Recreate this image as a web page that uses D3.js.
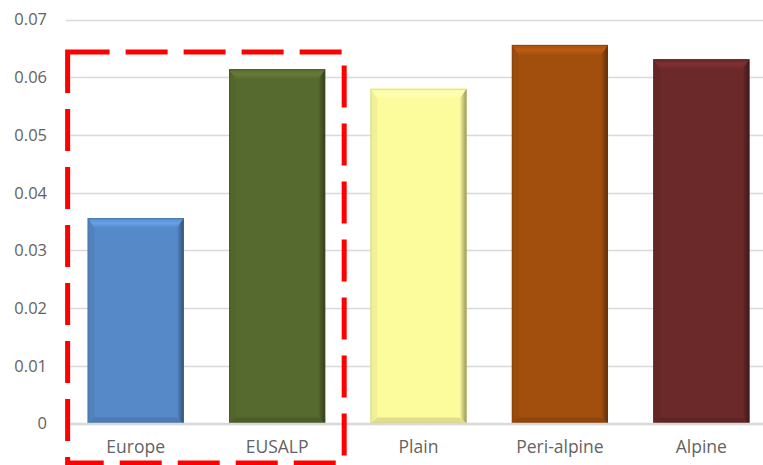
<!DOCTYPE html>
<html>
<head>
<meta charset="utf-8">
<script src="https://cdn.jsdelivr.net/npm/d3@7"></script>
<style>
  html, body { margin: 0; padding: 0; background: #fff; }
  svg { display: block; }
</style>
</head>
<body>
<svg id="chart" width="763" height="465"></svg>
<script>
// Regions and their index values
const categories = ["Europe", "EUSALP", "Plain", "Peri-alpine", "Alpine"];
const values = [0.0356, 0.0614, 0.0580, 0.0656, 0.0631];
const barColors = ["#5689C8", "#566A2F", "#FCFC9C", "#A24F0D", "#6B2929"];
const yTicks = [0, 0.01, 0.02, 0.03, 0.04, 0.05, 0.06, 0.07];
const highlighted = ["Europe", "EUSALP"];

const W = 763, H = 465;
const svg = d3.select("#chart");

const x = d3.scaleBand().domain(categories).range([65, 772]).paddingInner(0.32).paddingOuter(0.16);
const y = d3.scaleLinear().domain([0, 0.07]).range([423.5, 19.5]);

// Gridlines
svg.append("g").selectAll("line").data(yTicks).join("line")
  .attr("x1", 66).attr("x2", W)
  .attr("y1", d => Math.round(y(d)) + 0.5).attr("y2", d => Math.round(y(d)) + 0.5)
  .attr("stroke", "#D9D9D9").attr("stroke-width", 1.3);

// Y tick labels
svg.append("g").selectAll("text").data(yTicks).join("text")
  .attr("x", 47).attr("y", d => y(d)).attr("dy", "0.36em")
  .attr("text-anchor", "end")
  .attr("font-family", "Open Sans, Liberation Sans, sans-serif")
  .attr("font-size", 16.5).attr("fill", "#636363")
  .text(d => d === 0 ? "0" : d.toFixed(2));

// Bevelled bars
const defs = svg.append("defs");
const bars = svg.append("g").selectAll("g").data(categories).join("g");
const bevel = 10, side = 7;

bars.each(function (c, i) {
  const g = d3.select(this);
  const x0 = x(c), w = x.bandwidth();
  const y0 = y(values[i]), y1 = y(0);
  const base = d3.color(barColors[i]);
  const light = base.brighter(0.45).formatHex();
  const dark = base.darker(1.5).formatHex();
  const mid = base.darker(0.5).formatHex();

  // right edge shading
  const gid = "rg" + i;
  const grad = defs.append("linearGradient").attr("id", gid).attr("x1", "0").attr("x2", "1");
  grad.append("stop").attr("offset", "0").attr("stop-color", base.formatHex());
  grad.append("stop").attr("offset", "1").attr("stop-color", dark);

  // top bevel shading
  const tid = "tg" + i;
  const tgrad = defs.append("linearGradient").attr("id", tid).attr("x1", "0").attr("x2", "0").attr("y1", "0").attr("y2", "1");
  tgrad.append("stop").attr("offset", "0").attr("stop-color", base.formatHex());
  tgrad.append("stop").attr("offset", "0.5").attr("stop-color", light);
  tgrad.append("stop").attr("offset", "1").attr("stop-color", base.formatHex());

  g.append("rect").attr("x", x0).attr("y", y0).attr("width", w).attr("height", y1 - y0)
    .attr("fill", base.formatHex());
  // top bevel
  g.append("path")
    .attr("d", `M${x0},${y0}L${x0 + w},${y0}L${x0 + w - side},${y0 + bevel}L${x0 + side},${y0 + bevel}Z`)
    .attr("fill", `url(#${tid})`);
  // bottom bevel
  g.append("path")
    .attr("d", `M${x0},${y1}L${x0 + w},${y1}L${x0 + w - side},${y1 - 6}L${x0 + side},${y1 - 6}Z`)
    .attr("fill", mid).attr("opacity", 0.7);
  // left bevel
  g.append("path")
    .attr("d", `M${x0},${y0}L${x0 + side},${y0 + bevel}L${x0 + side},${y1 - 6}L${x0},${y1}Z`)
    .attr("fill", mid).attr("opacity", 0.3);
  // right bevel
  g.append("path")
    .attr("d", `M${x0 + w},${y0}L${x0 + w - side},${y0 + bevel}L${x0 + w - side},${y1 - 6}L${x0 + w},${y1}Z`)
    .attr("fill", `url(#${gid})`);
  g.append("rect").attr("x", x0 + 0.5).attr("y", y0 + 0.5).attr("width", w - 1).attr("height", y1 - y0 - 1)
    .attr("fill", "none").attr("stroke", base.darker(0.8).formatHex()).attr("stroke-opacity", 0.5);
});

// Baseline
svg.append("line").attr("x1", 66).attr("x2", W).attr("y1", 423.5).attr("y2", 423.5)
  .attr("stroke", "#D9D9D9").attr("stroke-width", 1.3);

// Category labels
svg.append("g").selectAll("text").data(categories).join("text")
  .attr("x", d => x(d) + x.bandwidth() / 2).attr("y", 453)
  .attr("text-anchor", "middle")
  .attr("font-family", "Open Sans, Liberation Sans, sans-serif")
  .attr("font-size", 17.5).attr("fill", "#636363")
  .text(d => d);

// Dashed frame around the highlighted group
const hx0 = x(highlighted[0]) - 20;
const hx1 = x(highlighted[highlighted.length - 1]) + x.bandwidth() + 19;
svg.append("path")
  .attr("d", `M${hx0},52L${hx1},52L${hx1},463L${hx0},463Z`)
  .attr("fill", "none").attr("stroke", "#FF0000").attr("stroke-width", 5)
  .attr("stroke-dasharray", "42,16").attr("stroke-dashoffset", 0);
</script>
</body>
</html>
